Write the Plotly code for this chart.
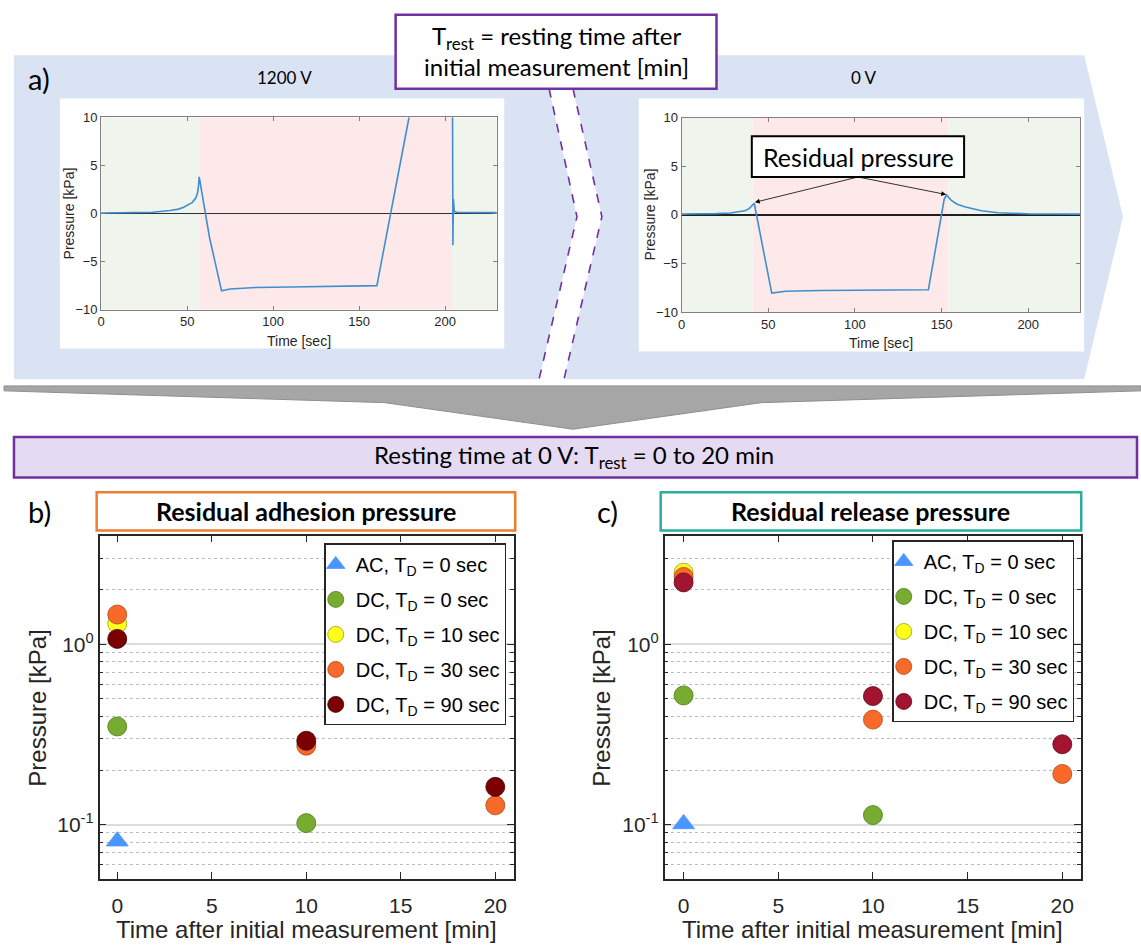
import math
import plotly.graph_objects as go

W, H = 1141, 950


def px(x):
    return x / W


def py(y):
    return 1 - y / H


def poly(points, close=True):
    s = "M " + " L ".join(f"{px(x):.5f},{py(y):.5f}" for x, y in points)
    return s + (" Z" if close else "")


# ---------------- data: panel a (pressure traces) ----------------
t_1200 = [0, 10, 20, 30, 40, 45, 48, 51, 53, 55, 56, 56.5, 57, 63, 70, 75, 90, 110, 130, 150, 160.3, 179, None,
          204.3, 204.5, 204.8, 205.3, 207, 215, 230]
p_1200 = [0.05, 0.07, 0.09, 0.13, 0.3, 0.45, 0.65, 0.9, 1.15, 1.6, 2.1, 2.7, 3.8, -2.5, -8.05, -7.85, -7.7, -7.65,
          -7.6, -7.55, -7.5, 10, None, 10, -3.3, 1.5, 0.2, 0.12, 0.1, 0.08]

t_0v = [0, 10, 20, 28, 33, 36.5, 39, 40.5, 41.9, 52, 60, 80, 100, 120, 142.4, 151.5, 152.8, 155.6, 159, 163.3,
        168, 173, 182.6, 192, 202, 215, 230]
p_0v = [0.1, 0.1, 0.13, 0.2, 0.3, 0.42, 0.65, 0.9, 1.2, -8.05, -7.85, -7.78, -7.75, -7.72, -7.7, 1.6, 2.05, 1.5,
        1.1, 0.83, 0.6, 0.42, 0.22, 0.14, 0.1, 0.09, 0.08]

phase_1200 = [0, 57, 204, 230]   # green | pink | green boundaries [sec]
phase_0v = [0, 41, 154, 230]

# ---------------- data: panels b and c ----------------
rest_time = [0, 10, 20]
series_names = ["AC, T<sub>D</sub> = 0 sec", "DC, T<sub>D</sub> = 0 sec", "DC, T<sub>D</sub> = 10 sec",
                "DC, T<sub>D</sub> = 30 sec", "DC, T<sub>D</sub> = 90 sec"]

adh_ac = [0.081, None, None]
adh_dc0 = [0.35, 0.102, None]
adh_dc10 = [1.30, None, None]
adh_dc30 = [1.46, 0.274, 0.128]
adh_dc90 = [1.07, 0.292, 0.162]

rel_ac = [0.101, None, None]
rel_dc0 = [0.52, 0.113, None]
rel_dc10 = [2.49, None, None]
rel_dc30 = [2.36, 0.382, 0.191]
rel_dc90 = [2.20, 0.516, 0.279]

y_ticks = [0.1, 1]
y_ticktext = ["10<sup>-1</sup>", "10<sup>0</sup>"]
y_minor = [0.05, 0.06, 0.07, 0.08, 0.09, 0.2, 0.3, 0.4, 0.5, 0.6, 0.7, 0.8, 0.9, 2, 3, 4]
x_ticks = [0, 5, 10, 15, 20]

# ---------------- styles ----------------
ARIAL = "Liberation Sans, Arial, sans-serif"
CAL = "Lato, Carlito, Calibri, sans-serif"
LINE_BLUE = "#3d8fd0"
GREEN_BG = "#eff5ed"
PINK_BG = "#fde9e9"
PURPLE = "#7030a0"

fig = go.Figure()

# panel a traces
fig.add_trace(go.Scatter(x=t_1200, y=p_1200, mode="lines", line=dict(color=LINE_BLUE, width=1.6),
                         xaxis="x", yaxis="y", showlegend=False, hoverinfo="skip"))
fig.add_trace(go.Scatter(x=t_0v, y=p_0v, mode="lines", line=dict(color=LINE_BLUE, width=1.6),
                         xaxis="x2", yaxis="y2", showlegend=False, hoverinfo="skip"))

# panels b, c
sym = ["triangle-up", "circle", "circle", "circle", "circle"]
fill_b = ["#4a96ff", "#77ac30", "#ffff1a", "#f8692a", "#7b0000"]
fill_c = ["#4a96ff", "#77ac30", "#ffff1a", "#f8692a", "#a2142f"]
edge = ["#4a96ff", "#4f7a22", "#9c9c10", "#a84a1c", "#3c0000"]
edge_c = ["#4a96ff", "#4f7a22", "#9c9c10", "#a84a1c", "#5a0a1a"]

for i, vals in enumerate([adh_ac, adh_dc0, adh_dc10, adh_dc30, adh_dc90]):
    fig.add_trace(go.Scatter(x=rest_time, y=vals, mode="markers", name=series_names[i],
                             marker=dict(symbol=sym[i], size=19, color=fill_b[i],
                                         line=dict(color=edge[i], width=0.8)),
                             legendgroup=f"b{i}", xaxis="x3", yaxis="y3", legend="legend", hoverinfo="skip"))
for i, vals in enumerate([rel_ac, rel_dc0, rel_dc10, rel_dc30, rel_dc90]):
    fig.add_trace(go.Scatter(x=rest_time, y=vals, mode="markers", name=series_names[i],
                             marker=dict(symbol=sym[i], size=19, color=fill_c[i],
                                         line=dict(color=edge_c[i], width=0.8)),
                             legendgroup=f"c{i}", xaxis="x4", yaxis="y4", legend="legend2", hoverinfo="skip"))

# ---------------- axes ----------------
top_common = dict(showgrid=False, ticks="inside", ticklen=4, tickwidth=1, tickcolor="#808080",
                  showline=True, linecolor="#808080", linewidth=1, mirror="ticks",
                  tickfont=dict(family=ARIAL, size=13, color="#262626"))
bot_x = dict(showgrid=False, zeroline=False, ticks="inside", ticklen=7, tickwidth=1.3, tickcolor="#262626",
             showline=True, linecolor="#262626", linewidth=1.6, mirror="ticks", tickvals=x_ticks,
             ticklabelstandoff=7, tickfont=dict(family=ARIAL, size=21, color="#262626"))
bot_y = dict(type="log", range=[math.log10(0.05), math.log10(4)], tickvals=y_ticks, ticktext=y_ticktext,
             showgrid=True, gridcolor="#dcdcdc", gridwidth=1.8, zeroline=False,
             ticks="inside", ticklen=7, tickwidth=1.3, tickcolor="#262626",
             showline=True, linecolor="#262626", linewidth=1.6, mirror="ticks",
             tickfont=dict(family=ARIAL, size=21, color="#262626"),
             minor=dict(tickvals=y_minor, ticks="inside", ticklen=4, tickcolor="#262626", tickwidth=1,
                        showgrid=True, gridcolor="#bdbdbd", griddash="dot", gridwidth=1))

fig.update_layout(
    xaxis=dict(domain=[px(97.5), px(494.5)], range=[0, 230], tickvals=[0, 50, 100, 150, 200], zeroline=False,
               anchor="y", **top_common),
    yaxis=dict(domain=[py(307.5), py(112)], range=[-10, 10], tickvals=[-10, -5, 0, 5, 10], zeroline=True,
               zerolinecolor="#303030", zerolinewidth=1.2, anchor="x", **top_common),
    xaxis2=dict(domain=[px(680), px(1080)], range=[0, 230], tickvals=[0, 50, 100, 150, 200], zeroline=False,
                anchor="y2", **top_common),
    yaxis2=dict(domain=[py(310), py(112.5)], range=[-10, 10], tickvals=[-10, -5, 0, 5, 10], zeroline=True,
                zerolinecolor="#202020", zerolinewidth=1.6, anchor="x2", **top_common),
    xaxis3=dict(domain=[px(96), px(512)], range=[-0.93, 21], anchor="y3", **bot_x),
    yaxis3=dict(domain=[py(886), py(537)], anchor="x3", **bot_y),
    xaxis4=dict(domain=[px(663), px(1081)], range=[-1, 21], anchor="y4", **bot_x),
    yaxis4=dict(domain=[py(886), py(537)], anchor="x4", **bot_y),
)

leg_common = dict(xanchor="right", yanchor="top", bgcolor="white", bordercolor="#262626", borderwidth=1.5,
                  font=dict(family=ARIAL, size=20, color="black"), itemsizing="trace",
                  traceorder="grouped", tracegroupgap=6, indentation=-10)
fig.update_layout(
    legend=dict(x=px(504), y=py(545), **leg_common),
    legend2=dict(x=px(1074), y=py(542), **leg_common),
)

# ---------------- shapes ----------------
shapes = []
# blue band with chevron
shapes.append(dict(type="path", xref="paper", yref="paper", layer="below",
                   path=poly([(10, 49), (1084, 49), (1123, 213), (1084, 378), (10, 378)]),
                   fillcolor="#dae3f3", line=dict(width=0)))
# white gap between dashed lines
shapes.append(dict(type="path", xref="paper", yref="paper", layer="below",
                   path=poly([(547, 83), (571, 83), (600, 213), (562, 378), (537, 378), (575, 213)]),
                   fillcolor="white", line=dict(width=0)))
for pts in ([(547, 83), (575, 213), (537, 378)], [(571, 83), (600, 213), (562, 378)]):
    shapes.append(dict(type="path", xref="paper", yref="paper", layer="below", path=poly(pts, close=False),
                       line=dict(color=PURPLE, width=1.6, dash="dash")))
# white plot canvases
shapes.append(dict(type="rect", xref="paper", yref="paper", layer="below", x0=px(56), x1=px(502),
                   y0=py(347), y1=py(93), fillcolor="white", line=dict(width=0)))
shapes.append(dict(type="rect", xref="paper", yref="paper", layer="below", x0=px(637), x1=px(1084),
                   y0=py(350), y1=py(93), fillcolor="white", line=dict(width=0)))
# gray down arrow
shapes.append(dict(type="path", xref="paper", yref="paper", layer="below",
                   path=poly([(0, 385), (1141, 385), (1141, 390), (760, 402), (571, 429), (382, 402), (0, 390)]),
                   fillcolor="#a6a6a6", line=dict(color="#8f8f8f", width=1)))
# purple top box
shapes.append(dict(type="rect", xref="paper", yref="paper", layer="below", x0=px(393), x1=px(715),
                   y0=py(83), y1=py(8), fillcolor="white", line=dict(color=PURPLE, width=2.5)))
# resting box
shapes.append(dict(type="rect", xref="paper", yref="paper", layer="below", x0=px(10), x1=px(1137),
                   y0=py(478), y1=py(437), fillcolor="#e4daf1", line=dict(color=PURPLE, width=2.5)))
# title boxes
shapes.append(dict(type="rect", xref="paper", yref="paper", layer="below", x0=px(93), x1=px(513),
                   y0=py(532), y1=py(493), fillcolor="white", line=dict(color="#ed7d31", width=2.5)))
shapes.append(dict(type="rect", xref="paper", yref="paper", layer="below", x0=px(659), x1=px(1081),
                   y0=py(532), y1=py(493), fillcolor="white", line=dict(color="#2aaea0", width=2.5)))
# phase backgrounds
for xr, yr, ph in (("x", "y", phase_1200), ("x2", "y2", phase_0v)):
    cols = [GREEN_BG, PINK_BG, GREEN_BG]
    for k in range(3):
        shapes.append(dict(type="rect", xref=xr, yref=yr, layer="below", x0=ph[k], x1=ph[k + 1],
                           y0=-10, y1=10, fillcolor=cols[k], line=dict(width=0)))
# residual pressure box
shapes.append(dict(type="rect", xref="x2", yref="y2", layer="above", x0=40.5, x1=163, y0=3.9, y1=8.1,
                   fillcolor="white", line=dict(color="black", width=2)))
fig.update_layout(shapes=shapes)

# ---------------- annotations ----------------
ann = []


def txt(x, y, s, size, family=CAL, color="black", angle=0, **kw):
    ann.append(dict(x=px(x), y=py(y), xref="paper", yref="paper", text=s, showarrow=False,
                    font=dict(family=family, size=size, color=color), textangle=angle,
                    xanchor="center", yanchor="middle", **kw))


txt(35, 73, "a)", 29)
txt(36, 513, "b)", 29)
txt(606, 513, "c)", 29)
txt(281, 72, "1200 V", 17)
txt(863, 72, "0 V", 17)
txt(554, 45, "T<sub>rest</sub> = resting time after<br>initial measurement [min]", 24)
txt(572, 457, "Resting time at 0 V: T<sub>rest</sub> = 0 to 20 min", 24)
txt(303, 512, "<b>Residual adhesion pressure</b>", 25)
txt(870, 512, "<b>Residual release pressure</b>", 25)
# axis titles
txt(296, 339, "Time [sec]", 14, family=ARIAL, color="#262626")
txt(880, 341, "Time [sec]", 14, family=ARIAL, color="#262626")
txt(65, 210, "Pressure [kPa]", 14, family=ARIAL, color="#262626", angle=-90)
txt(648, 211, "Pressure [kPa]", 14, family=ARIAL, color="#262626", angle=-90)
txt(304, 937, "Time after initial measurement [min]", 24, family=ARIAL, color="#262626")
txt(872, 937, "Time after initial measurement [min]", 24, family=ARIAL, color="#262626")
txt(34, 712, "Pressure [kPa]", 24, family=ARIAL, color="#262626", angle=-90)
txt(600, 712, "Pressure [kPa]", 24, family=ARIAL, color="#262626", angle=-90)

# residual pressure label and arrows
ann.append(dict(x=101.8, y=6.0, xref="x2", yref="y2", text="Residual pressure", showarrow=False,
                font=dict(family=CAL, size=25, color="black")))
for hx, hy in ((42.3, 1.3), (152.6, 2.1)):
    ann.append(dict(x=hx, y=hy, ax=101.8, ay=3.9, xref="x2", yref="y2", axref="x2", ayref="y2", text="",
                    showarrow=True, arrowhead=2, arrowsize=1.2, arrowwidth=0.8, arrowcolor="black"))

fig.update_layout(annotations=ann)

fig.update_layout(width=W, height=H, margin=dict(l=0, r=0, t=0, b=0), paper_bgcolor="white",
                  plot_bgcolor="rgba(0,0,0,0)", hovermode=False)

fig.write_html("out.html", config={"displayModeBar": False},
               post_script="document.body.style.margin='0px';document.body.style.overflow='hidden';")
